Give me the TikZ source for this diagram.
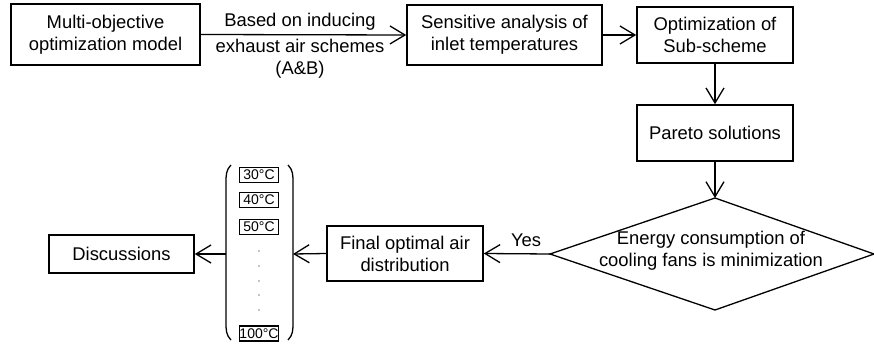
\documentclass[tikz,border=0pt]{standalone}
\usepackage{fontspec}
\setmainfont{Liberation Sans}
\usetikzlibrary{arrows.meta}
\begin{document}
\begin{tikzpicture}[x=1pt,y=-1pt,
  box/.style={draw, line width=1.6pt, align=center, inner sep=0pt, font=\fontsize{18.4}{22}\selectfont},
  tbox/.style={draw, line width=1.1pt, minimum width=39pt, minimum height=15pt, inner sep=0pt, font=\fontsize{14}{15}\selectfont},
  txt/.style={align=center, inner sep=0pt, font=\fontsize{18.4}{22}\selectfont},
  arr/.style={line width=1.3pt, -{Straight Barb[length=15pt,width=18pt,line width=1.3pt]}},
  thin/.style={line width=1.3pt},
]
\useasboundingbox (0,0) rectangle (874,347);

\node[box, minimum width=189pt, minimum height=61pt] (m1) at (105.5,34.5) {Multi-objective\\optimization model};
\node[box, minimum width=195pt, minimum height=60pt] (m2) at (504.5,35) {Sensitive analysis of\\inlet temperatures};
\node[box, minimum width=156pt, minimum height=56pt] (m3) at (715,35) {Optimization of\\Sub-scheme};
\node[box, minimum width=156pt, minimum height=56pt] (m4) at (715,133) {Pareto solutions};

\coordinate (dT) at (715,198);
\coordinate (dL) at (550,254);
\coordinate (dR) at (874,254);
\coordinate (dB) at (715,310);
\draw[thin] (dT) -- (dR) -- (dB) -- (dL) -- cycle;
\node[txt] (dtext) at (711,251) {Energy consumption of\\cooling fans is minimization};

\node[box, minimum width=156pt, minimum height=55pt] (fin) at (405,253.5) {Final optimal air\\distribution};
\node[box, minimum width=145pt, minimum height=38pt] (disc) at (121.5,254) {Discussions};

% bracket with temperatures
\node[tbox] (t30) at (259,175) {30°C};
\node[tbox] (t40) at (259,200) {40°C};
\node[tbox] (t50) at (259,227) {50°C};
\node[tbox] (t100) at (259,333.5) {100°C};
\foreach \yy in {251,266,281,295,310} {
  \fill (259,\yy) circle (0.6pt);
}
\draw[thin] (231,165) .. controls (226,170) and (226,175) .. (226,183) -- (226,322) .. controls (226,330) and (226,335) .. (231,340);
\draw[thin] (288,165) .. controls (293,170) and (293,175) .. (293,183) -- (293,322) .. controls (293,330) and (293,335) .. (288,340);
\coordinate (bl) at (226,254);
\coordinate (br) at (293,254);

% connectors
\draw[arr] (m1.east) -- (m2.west);
\node[txt] (lab1) at (300,22) {Based on inducing};
\node[txt] (lab2) at (300,59) {exhaust air schemes\\(A\&B)};
\draw[arr] (m2.east) -- (m3.west);
\draw[arr] (m3.south) -- (m4.north);
\draw[arr] (m4.south) -- (dT);
\draw[arr] (dL) -- (fin.east);
\node[txt] (yes) at (526,240) {Yes};
\draw[arr] (fin.west) -- (br);
\draw[arr] (bl) -- (disc.east);
\end{tikzpicture}
\end{document}
